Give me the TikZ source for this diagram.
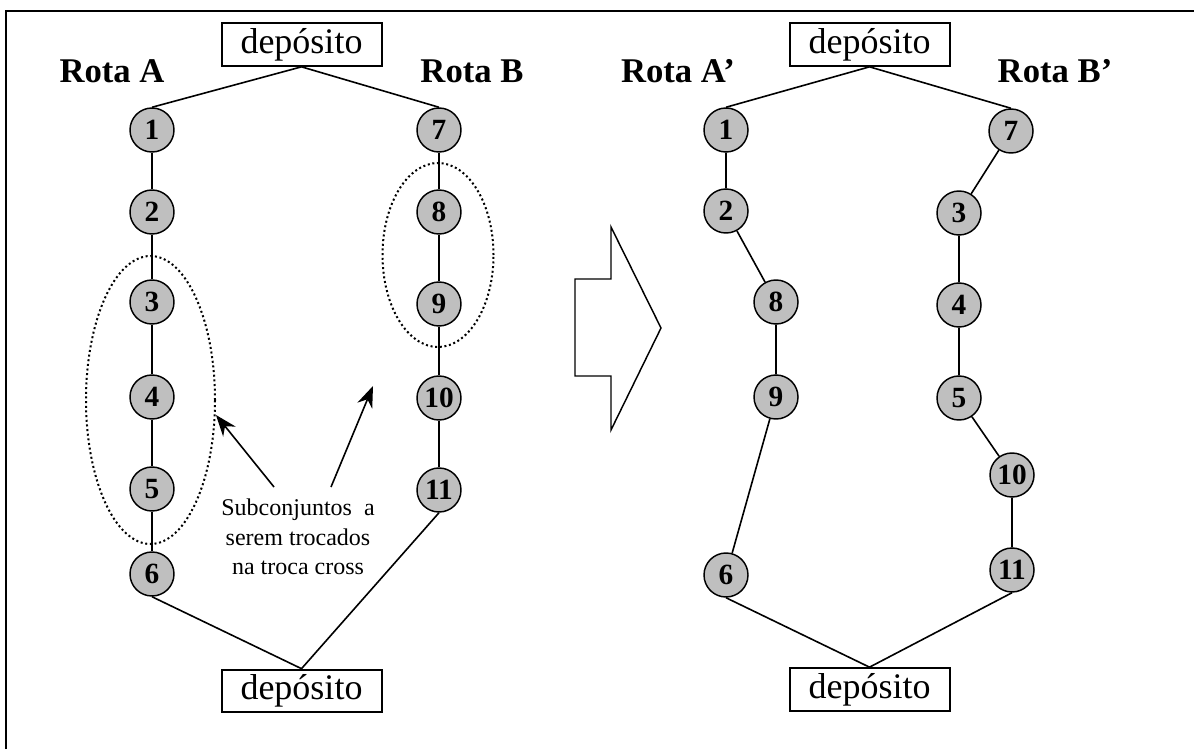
\documentclass[tikz,border=0pt]{standalone}
\usepackage{fontspec}
\setmainfont{Liberation Serif}
\usetikzlibrary{arrows.meta,shapes.geometric}

\begin{document}
\begin{tikzpicture}[x=0.75pt,y=-0.75pt,
  cliente/.style={circle,draw,line width=1.1pt,fill=black!25,minimum size=33pt,
    inner sep=0pt,font=\fontsize{22}{22}\selectfont\bfseries},
  deposito/.style={draw,line width=1.5pt,minimum width=120pt,minimum height=32pt,
    inner sep=0pt,font=\fontsize{27}{27}\selectfont},
  rota/.style={anchor=base,font=\fontsize{26}{26}\selectfont\bfseries},
  liga/.style={line width=1.2pt},
  grupo/.style={ellipse,draw,line width=1.5pt,dash pattern=on 1.5pt off 2pt,inner sep=0pt}]
\useasboundingbox (0,0) rectangle (1194,749);
\draw[line width=1.6pt] (6,749) -- (6,11) -- (1194,11);

% rotas antes da troca
\node[deposito] (d1) at (301.5,44.5) {depósito};
\node[deposito] (d2) at (301.5,691) {depósito};
\node[rota] (ra) at (112,83) {Rota A};
\node[rota] (rb) at (472,83) {Rota B};
\foreach \n/\y in {1/130,2/212,3/302,4/397,5/489,6/574}
  \node[cliente] (a\n) at (152,\y) {\n};
\foreach \n/\y in {7/130,8/212,9/304,10/398,11/490}
  \node[cliente] (b\n) at (439,\y) {\n};
\draw[liga] (a1.north) -- (d1.south) -- (b7.north);
\draw[liga] (a1) -- (a2) -- (a3) -- (a4) -- (a5) -- (a6);
\draw[liga] (b7) -- (b8) -- (b9) -- (b10) -- (b11);
\draw[liga] (a6.south) -- (d2.north) -- (b11.south);

% subconjuntos trocados
\node[grupo,minimum width=96.75pt,minimum height=216pt] (sa) at (150.5,400) {};
\node[grupo,minimum width=83.25pt,minimum height=138pt] (sb) at (438,255) {};
\node[align=center,font=\fontsize{18}{22}\selectfont] (txt) at (298,537)
  {Subconjuntos~ a\\serem trocados\\na troca cross};
\coordinate (pa) at (274,487);
\coordinate (pb) at (331,487);
\coordinate (qa) at (216,415);
\coordinate (qb) at (373,386);
\draw[liga,-{Stealth[length=16pt,width=12pt]}] (pa) -- (qa);
\draw[liga,-{Stealth[length=16pt,width=12pt]}] (pb) -- (qb);

% seta grande
\draw[line width=1.1pt] (575,279) -- (611,279) -- (611,227) -- (661,328)
  -- (611,430) -- (611,376) -- (575,376) -- cycle;

% rotas depois da troca
\node[deposito] (d3) at (869.5,44.5) {depósito};
\node[deposito] (d4) at (869.5,689.5) {depósito};
\node[rota] (ra2) at (678,83) {Rota A’};
\node[rota] (rb2) at (1055,83) {Rota B’};
\node[cliente] (c1) at (726,130) {1};
\node[cliente] (c2) at (726,211) {2};
\node[cliente] (c8) at (776,302) {8};
\node[cliente] (c9) at (776,397) {9};
\node[cliente] (c6) at (726,575) {6};
\node[cliente] (e7) at (1011,131) {7};
\node[cliente] (e3) at (959,213) {3};
\node[cliente] (e4) at (959,305) {4};
\node[cliente] (e5) at (959,398) {5};
\node[cliente] (e10) at (1012,475) {10};
\node[cliente] (e11) at (1012,570) {11};
\draw[liga] (c1.north) -- (d3.south) -- (e7.north);
\draw[liga] (c1) -- (c2) -- (c8) -- (c9) -- (c6);
\draw[liga] (e7) -- (e3) -- (e4) -- (e5) -- (e10) -- (e11);
\draw[liga] (c6.south) -- (d4.north) -- (e11.south);
\end{tikzpicture}
\end{document}
